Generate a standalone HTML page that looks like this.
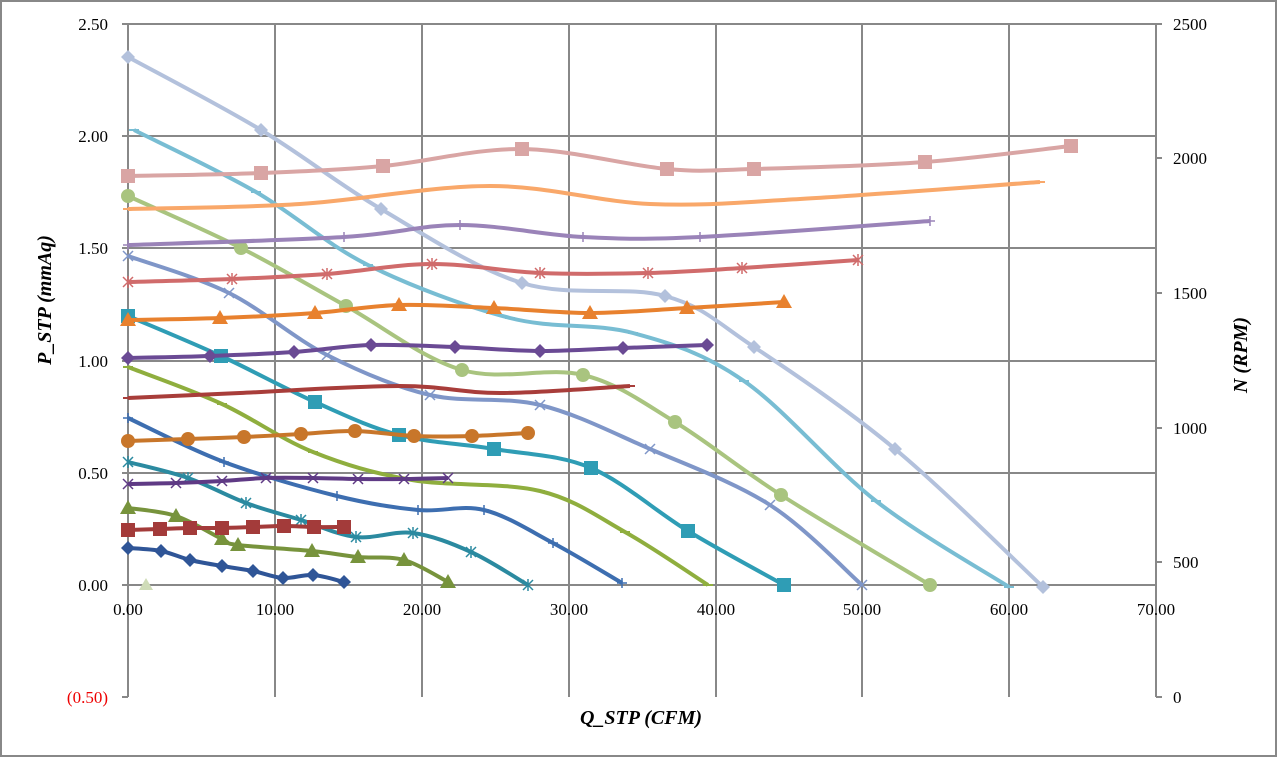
<!DOCTYPE html>
<html><head><meta charset="utf-8"><style>
html,body{margin:0;padding:0;background:#fff;}
svg{display:block;}
text{font-family:"Liberation Serif",serif;font-size:17px;fill:#000;}
</style></head><body>
<svg id="s" width="1277" height="757" xmlns="http://www.w3.org/2000/svg">
<rect x="1" y="1" width="1275" height="755" fill="#fff" stroke="#888" stroke-width="2"/>
<g stroke="#888" stroke-width="2" fill="none">
<path d="M128 24H1156M128 136H1156M128 248H1156M128 361H1156M128 473H1156M128 585H1156"/>
<path d="M275 24V697M422 24V697M569 24V697M716 24V697M862 24V697M1009 24V697"/>
<path d="M128 24V697M1156 24V697M122 24H128M122 136H128M122 248H128M122 361H128M122 473H128M122 585H128M122 697H128"/>
<path d="M128 585V591M275 585V591M422 585V591M569 585V591M716 585V591M862 585V591M1009 585V591M1156 585V591"/>
<path d="M1156 24H1162M1156 158H1162M1156 293H1162M1156 428H1162M1156 562H1162M1156 697H1162"/>
</g>
<g text-anchor="end">
<text x="108" y="30">2.50</text><text x="108" y="142">2.00</text><text x="108" y="254">1.50</text>
<text x="108" y="367">1.00</text><text x="108" y="479">0.50</text><text x="108" y="591">0.00</text>
<text x="108" y="703" style="fill:#e00">(0.50)</text>
</g>
<g text-anchor="middle">
<text x="128" y="615">0.00</text><text x="275" y="615">10.00</text><text x="422" y="615">20.00</text>
<text x="569" y="615">30.00</text><text x="716" y="615">40.00</text><text x="862" y="615">50.00</text>
<text x="1009" y="615">60.00</text><text x="1156" y="615">70.00</text>
</g>
<g>
<text x="1173" y="30">2500</text><text x="1173" y="164">2000</text><text x="1173" y="299">1500</text>
<text x="1173" y="434">1000</text><text x="1173" y="568">500</text><text x="1173" y="703">0</text>
</g>
<text x="641" y="724" text-anchor="middle" style="font-weight:bold;font-style:italic;font-size:20px">Q_STP (CFM)</text>
<text transform="translate(51,300) rotate(-90)" text-anchor="middle" style="font-weight:bold;font-style:italic;font-size:20px">P_STP (mmAq)</text>
<text transform="translate(1247,355) rotate(-90)" text-anchor="middle" style="font-weight:bold;font-style:italic;font-size:20px">N (RPM)</text>
<g id="series"></g>
</svg>
<script>
var S=[
["#b3c1dc","d",[[128,57],[261,130],[381,209],[522,283],[665,296],[754,347],[895,449],[1043,587]]],
["#78bdd3","-",[[134,130],[256,192],[368,265],[510,318],[633,333],[744,381],[876,501],[1009,587]]],
["#a9c47f","c",[[128,196],[241,248],[346,306],[462,370],[583,375],[675,422],[781,495],[930,585]]],
["#7f96c8","x",[[128,256],[229,293],[327,355],[430,395],[540,405],[650,449],[770,505],[862,585]]],
["#2f9db5","s",[[128,316],[221,356],[315,402],[399,435],[494,449],[591,468],[688,531],[784,585]]],
["#8fae3e","-",[[128,367],[222,404],[313,452],[412,480],[540,491],[625,532],[708,585]]],
["#3d6eb0","+",[[128,418],[224,462],[337,496],[418,510],[484,510],[553,543],[622,583]]],
["#2b8aa0","*",[[128,462],[188,478],[246,503],[301,520],[356,537],[413,533],[471,552],[528,585]]],
["#77933c","t",[[128,508],[176,516],[222,539],[238,545],[312,551],[358,557],[404,560],[448,582]]],
["#2f5597","d",[[128,548],[161,551],[190,560],[222,566],[253,571],[283,578],[313,575],[344,582]]],
["#d9a5a4","s",[[128,176],[261,173],[383,166],[522,149],[667,169],[754,169],[925,162],[1071,146]]],
["#f9a86a","-",[[128,209],[300,204],[490,186],[650,204],[800,199],[1040,182]]],
["#9a83b8","+",[[128,245],[344,237],[460,225],[583,237],[700,237],[930,221]]],
["#d06b6b","*",[[128,282],[232,279],[327,274],[432,264],[540,273],[648,273],[742,268],[858,260]]],
["#e8812e","t",[[128,320],[220,318],[315,313],[399,305],[494,308],[590,313],[687,308],[784,302]]],
["#6a4a94","d",[[128,358],[210,356],[294,352],[371,345],[455,347],[540,351],[623,348],[707,345]]],
["#a83d3a","-",[[128,398],[240,393],[400,386],[500,393],[630,386]]],
["#c8762a","c",[[128,441],[188,439],[244,437],[301,434],[355,431],[414,436],[472,436],[528,433]]],
["#5f3a85","x",[[128,484],[176,483],[222,481],[266,478],[313,478],[358,479],[404,479],[448,478]]],
["#a33b3a","s",[[128,530],[160,529],[190,528],[222,528],[253,527],[284,526],[314,527],[344,527]]]
];
var g=document.getElementById("series"),h="";
function path(p){var d="M"+p[0][0]+" "+p[0][1];for(var i=0;i<p.length-1;i++){var a=p[i-1]||p[i],b=p[i],c=p[i+1],e=p[i+2]||c;
d+="C"+(b[0]+(c[0]-a[0])/6)+" "+(b[1]+(c[1]-a[1])/6)+" "+(c[0]-(e[0]-b[0])/6)+" "+(c[1]-(e[1]-b[1])/6)+" "+c[0]+" "+c[1];}return d;}
S.forEach(function(s){var c=s[0];h+='<path d="'+path(s[2])+'" fill="none" stroke="'+c+'" stroke-width="4"/>';
s[2].forEach(function(p){var x=p[0],y=p[1];switch(s[1]){
case"d":h+='<path d="M'+x+' '+(y-7)+'L'+(x+7)+' '+y+'L'+x+' '+(y+7)+'L'+(x-7)+' '+y+'Z" fill="'+c+'"/>';break;
case"s":h+='<rect x="'+(x-7)+'" y="'+(y-7)+'" width="14" height="14" fill="'+c+'"/>';break;
case"c":h+='<circle cx="'+x+'" cy="'+y+'" r="7" fill="'+c+'"/>';break;
case"t":h+='<path d="M'+x+' '+(y-8)+'L'+(x+8)+' '+(y+6)+'L'+(x-8)+' '+(y+6)+'Z" fill="'+c+'"/>';break;
case"x":h+='<path d="M'+(x-5)+' '+(y-5)+'L'+(x+5)+' '+(y+5)+'M'+(x+5)+' '+(y-5)+'L'+(x-5)+' '+(y+5)+'" stroke="'+c+'" stroke-width="1.5"/>';break;
case"+":h+='<path d="M'+(x-5)+' '+y+'H'+(x+5)+'M'+x+' '+(y-5)+'V'+(y+5)+'" stroke="'+c+'" stroke-width="1.5"/>';break;
case"*":h+='<path d="M'+(x-5)+' '+(y-5)+'L'+(x+5)+' '+(y+5)+'M'+(x+5)+' '+(y-5)+'L'+(x-5)+' '+(y+5)+'M'+x+' '+(y-6)+'V'+(y+6)+'" stroke="'+c+'" stroke-width="1.5"/>';break;
case"-":h+='<path d="M'+(x-5)+' '+y+'H'+(x+5)+'" stroke="'+c+'" stroke-width="2"/>';break;}});});
h+='<path d="M146 578L153 590L139 590Z" fill="#cfdcb8"/>';
g.innerHTML=h;
</script>
</body></html>
